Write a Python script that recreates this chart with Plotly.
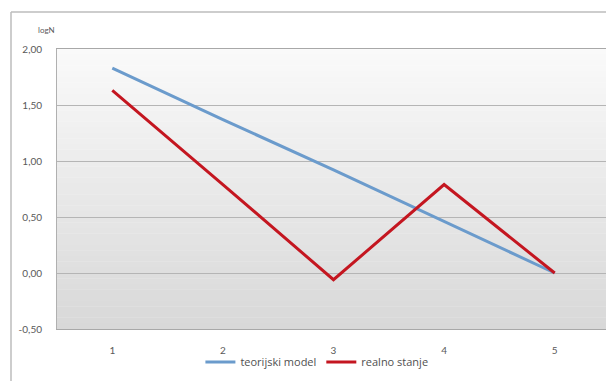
import plotly.graph_objects as go

categories = ["1", "2", "3", "4", "5"]
teorijski_model = [1.83, 1.37, 0.92, 0.46, 0.0]
realno_stanje = [1.63, 0.79, -0.06, 0.79, 0.0]
y_tick_vals = [-0.5, 0.0, 0.5, 1.0, 1.5, 2.0]
y_tick_text = ["-0,50", "0,00", "0,50", "1,00", "1,50", "2,00"]

# page body has an 8px margin, so the figure sits at (8, 8)
W, H = 606, 373
L, R, T, B = 49, 4, 41, 52
PW, PH = W - L - R, H - T - B

fig = go.Figure()
fig.add_trace(go.Scatter(x=categories, y=teorijski_model, mode="lines",
                         name="teorijski model",
                         line=dict(color="#6b9bcc", width=3)))
fig.add_trace(go.Scatter(x=categories, y=realno_stanje, mode="lines",
                         name="realno stanje",
                         line=dict(color="#c41620", width=3)))

# gradient background strips
shapes = []
n = 50
top = (250, 250, 250)
bot = (216, 216, 216)
for i in range(n):
    t = (i + 0.5) / n
    c = tuple(round(top[k] + (bot[k] - top[k]) * t) for k in range(3))
    shapes.append(dict(type="rect", xref="x domain", yref="y domain",
                       x0=0, x1=1, y0=1 - (i + 1) / n, y1=1 - i / n + 0.001,
                       fillcolor="rgb(%d,%d,%d)" % c, line=dict(width=0),
                       layer="below"))
# outer chart border
bx = (3 - L) / PW
by = 1 + (T - 4) / PH
shapes.append(dict(type="line", xref="paper", yref="paper",
                   x0=bx, x1=1.02, y0=by, y1=by,
                   line=dict(color="#bdbdbd", width=1.5)))
shapes.append(dict(type="line", xref="paper", yref="paper",
                   x0=bx, x1=bx, y0=-0.3, y1=by,
                   line=dict(color="#bdbdbd", width=1.5)))

fig.update_layout(
    width=W, height=H,
    margin=dict(l=L, r=R, t=T, b=B),
    paper_bgcolor="white",
    plot_bgcolor="rgba(0,0,0,0)",
    font=dict(family="Lato", size=10, color="#595959"),
    shapes=shapes,
    showlegend=True,
    legend=dict(orientation="h", x=0.47, xanchor="center", y=-0.118,
                yanchor="middle",
                font=dict(family="Open Sans", size=11, color="#505050"),
                bgcolor="rgba(0,0,0,0)", itemwidth=30, tracegroupgap=0),
    annotations=[dict(text="logN", xref="paper", yref="paper",
                      x=(38 - L) / PW, y=1 + (T - 22) / PH,
                      showarrow=False, font=dict(size=8, color="#595959"),
                      xanchor="center", yanchor="middle")],
)
fig.update_xaxes(type="category", range=[-0.5, 4.5], showgrid=False,
                 showline=True, mirror=True, linecolor="#a8a8a8", linewidth=1,
                 ticks="", tickfont=dict(size=10, color="#595959"),
                 ticklabelstandoff=12, zeroline=False)
fig.update_yaxes(range=[-0.5, 2.0], tickvals=y_tick_vals, ticktext=y_tick_text,
                 showgrid=True, gridcolor="#b5b5b5", gridwidth=1,
                 showline=True, mirror=True, linecolor="#b0b0b0", linewidth=1,
                 zeroline=False, ticks="", ticklabelstandoff=12,
                 tickfont=dict(size=10, color="#595959"))

fig.write_html("out.html")
